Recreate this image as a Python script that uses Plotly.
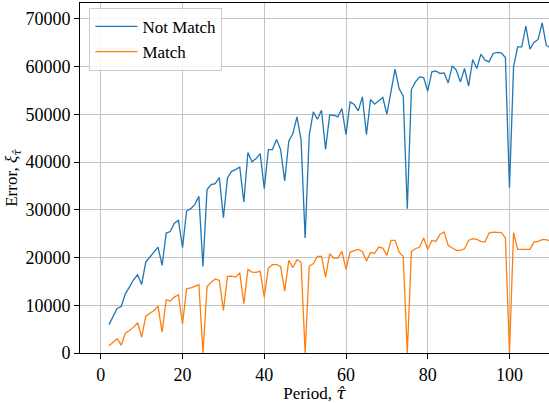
import plotly.graph_objects as go

# Period index and error per period for the two matching strategies
periods = list(range(2, 112))

not_match = [
    5950, 7650, 9350, 9750, 12400, 13800, 15350, 16400, 14370,            # 2-10
    19050, 20100, 21150, 22200, 18360, 25130, 25450, 27200, 27800, 22070,  # 11-20
    29750, 30250, 31090, 32830, 18150, 34240, 35290, 35500, 36760, 28360,  # 21-30
    36680, 38080, 38430, 38980, 31640, 42000, 40100, 40750, 41790, 34450,  # 31-40
    42630, 42630, 44730, 42630, 36040, 44370, 45990, 49470, 44730, 24090,  # 41-50
    45630, 50520, 48990, 50880, 42660, 49900, 49830, 49480, 51230, 45780,  # 51-60
    52620, 52070, 50730, 53670, 45780, 53120, 52140, 52830, 53540, 50040,  # 61-70
    54720, 59480, 55400, 53880, 30250, 55220, 56810, 57860, 57740, 54860,  # 71-80
    58910, 59120, 58580, 58700, 56600, 60170, 59270, 56810, 59620, 55910,  # 81-90
    61510, 59620, 62630, 61370, 61010, 62770, 62980, 62900, 61930, 34660,  # 91-100
    59960, 64160, 64160, 68500, 63670, 65080, 65710, 69190, 64510, 63950,  # 101-110
    64600,                                                                  # 111
]

match = [
    1500, 2270, 2970, 1640, 4160, 4720, 5420, 6330, 3320,                  # 2-10
    7730, 8360, 8920, 9830, 4370, 11160, 10880, 11710, 12220, 6120,        # 11-20
    13460, 13670, 13950, 14300, 0, 13950, 14820, 15520, 15210, 8920,       # 21-30
    16080, 16120, 15910, 16820, 10320, 17520, 16960, 16890, 17100, 11710,  # 31-40
    17800, 18500, 18500, 18150, 12960, 19410, 17870, 19550, 19060, 0,      # 41-50
    18220, 18710, 20250, 20250, 15910, 20810, 19900, 19900, 21290, 17520,  # 51-60
    21150, 21500, 21710, 21290, 19270, 21050, 20880, 22200, 21990, 20460,  # 61-70
    23600, 23600, 21150, 20250, 0, 21290, 21850, 22200, 24090, 21710,      # 71-80
    23600, 23390, 24860, 25350, 22550, 21990, 21500, 21500, 21850, 23600,  # 81-90
    23950, 23810, 23390, 23250, 25140, 25350, 25350, 25210, 24160, 0,      # 91-100
    25210, 21710, 21710, 21710, 21710, 23250, 23390, 23740, 23740, 23460,  # 101-110
    23400,                                                                  # 111
]

x_ticks = [0, 20, 40, 60, 80, 100]
y_ticks = [0, 10000, 20000, 30000, 40000, 50000, 60000, 70000]

BLUE = "#1f77b4"
ORANGE = "#ff7f0e"
SERIF = "Liberation Serif"
TAU_HAT = '<span style="font-family:DejaVu Serif"><i>τ̂</i></span>'


def serif_label(value):
    return '<span style="font-family:Liberation Serif">%d</span>' % value


fig = go.Figure()
fig.add_trace(go.Scatter(x=periods, y=not_match, mode="lines", name="Not Match",
                         line=dict(color=BLUE, width=1.3)))
fig.add_trace(go.Scatter(x=periods, y=match, mode="lines", name="Match",
                         line=dict(color=ORANGE, width=1.3)))

axis_common = dict(
    showline=True, linecolor="black", linewidth=1,
    ticks="outside", ticklen=5, tickwidth=1, tickcolor="black",
    showgrid=True, gridcolor="#c4c4c4", gridwidth=1,
    zeroline=False, automargin=False,
    tickfont=dict(family=SERIF, size=18, color="black"),
)

fig.update_xaxes(
    range=[-5.09, 109.67], tickvals=x_ticks,
    ticktext=[serif_label(t) for t in x_ticks],
    mirror=True,
    title=dict(text="Period, " + TAU_HAT,
               font=dict(family=SERIF, size=17, color="black"), standoff=6),
    **axis_common,
)
fig.update_yaxes(
    range=[0, 73350], tickvals=y_ticks,
    ticktext=[serif_label(t) for t in y_ticks],
    title=dict(text="Error, <i>ξ</i><sub>" + TAU_HAT + "</sub>",
               font=dict(family=SERIF, size=17, color="black"), standoff=3),
    **axis_common,
)

fig.update_layout(
    width=549, height=403,
    margin=dict(l=80, r=0, t=3, b=50),
    plot_bgcolor="white", paper_bgcolor="white",
    font=dict(family=SERIF, size=17, color="black"),
    legend=dict(
        x=0.02, y=0.986, xanchor="left", yanchor="top",
        bgcolor="rgba(255,255,255,0.85)", bordercolor="#cccccc", borderwidth=1,
        font=dict(family=SERIF, size=17, color="black"),
        tracegroupgap=0, itemwidth=42,
    ),
)

fig.write_html("out.html")
